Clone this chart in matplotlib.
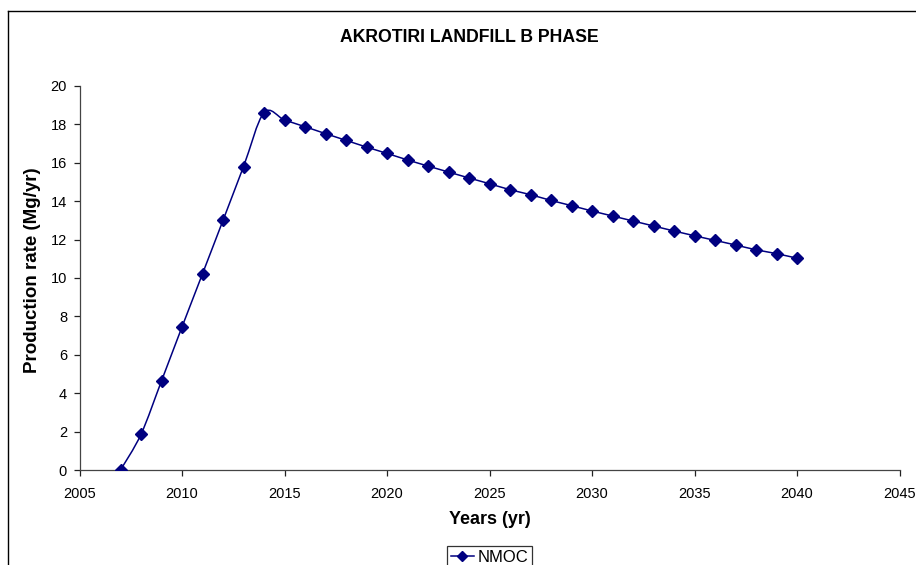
import numpy as np
import matplotlib
matplotlib.use("Agg")
import matplotlib.pyplot as plt
from matplotlib.path import Path
from matplotlib.patches import PathPatch
from matplotlib.lines import Line2D

plt.rcParams['font.family'] = ['Liberation Sans', 'DejaVu Sans']

# NMOC production, Mg/yr
years = [2007, 2008, 2009, 2010, 2011, 2012, 2013, 2014, 2015, 2016,
         2017, 2018, 2019, 2020, 2021, 2022, 2023, 2024, 2025, 2026,
         2027, 2028, 2029, 2030, 2031, 2032, 2033, 2034, 2035, 2036,
         2037, 2038, 2039, 2040]
nmoc = [0.00, 1.86, 4.64, 7.45, 10.22, 13.00, 15.80, 18.61, 18.23, 17.88,
        17.52, 17.17, 16.82, 16.49, 16.15, 15.83, 15.52, 15.21, 14.91, 14.60,
        14.34, 14.04, 13.77, 13.49, 13.23, 12.97, 12.71, 12.45, 12.20, 11.96,
        11.72, 11.47, 11.27, 11.03]

xticks = [2005, 2010, 2015, 2020, 2025, 2030, 2035, 2040, 2045]
yticks = [0, 2, 4, 6, 8, 10, 12, 14, 16, 18, 20]

color = '#000080'


def smooth_path(x, y):
    """Cubic Bezier path through the points (Catmull-Rom style smoothing)."""
    x = np.asarray(x, float)
    y = np.asarray(y, float)
    n = len(x)
    verts = [(x[0], y[0])]
    codes = [Path.MOVETO]
    for i in range(n - 1):
        x0, y0 = (x[i - 1], y[i - 1]) if i > 0 else (x[i], y[i])
        x3, y3 = (x[i + 2], y[i + 2]) if i + 2 < n else (x[i + 1], y[i + 1])
        c1 = (x[i] + (x[i + 1] - x0) / 6, y[i] + (y[i + 1] - y0) / 6)
        c2 = (x[i + 1] - (x3 - x[i]) / 6, y[i + 1] - (y3 - y[i]) / 6)
        verts += [c1, c2, (x[i + 1], y[i + 1])]
        codes += [Path.CURVE4] * 3
    return Path(verts, codes)


fig = plt.figure(figsize=(9.16, 5.65), dpi=100)
W, H = 916, 565
ax = fig.add_axes([79.5 / W, 1 - 470 / H, 820 / W, 384 / H])

ax.add_patch(PathPatch(smooth_path(years, nmoc), fill=False,
                       edgecolor=color, linewidth=1.1, zorder=2))
ax.plot(years, nmoc, linestyle='none', marker='D', markersize=6,
        color=color, zorder=3)

ax.set_xlim(2005, 2045)
ax.set_ylim(0, 20)
ax.set_xticks(xticks)
ax.set_yticks(yticks)
ax.tick_params(direction='out', length=4, width=0.9, labelsize=10.5,
               colors='#222222', labelcolor='black')
ax.tick_params(axis='x', pad=8)
ax.tick_params(axis='y', pad=5)
for side in ('top', 'right'):
    ax.spines[side].set_visible(False)
for side in ('left', 'bottom'):
    ax.spines[side].set_linewidth(0.9)
    ax.spines[side].set_color('#444444')

ax.set_xlabel('Years (yr)', fontsize=13, fontweight='bold')
ax.xaxis.set_label_coords(0.5, (470 - 511) / 384)
ax.set_ylabel('Production rate (Mg/yr)', fontsize=13.5, fontweight='bold',
              va='center')
ax.yaxis.set_label_coords((33 - 79.5) / 820, 0.52)
fig.text(469 / W, 1 - 38 / H, 'AKROTIRI LANDFILL B PHASE', fontsize=12.7,
         fontweight='bold', ha='center', va='center')

handle = Line2D([], [], color=color, linewidth=1.1, marker='D',
                markersize=5)
leg = fig.legend([handle], ['NMOC'], loc='upper center',
                 bbox_to_anchor=(489.5 / W, 1 - 546 / H), frameon=True,
                 fontsize=12, fancybox=False, edgecolor='black',
                 handlelength=1.4, handletextpad=0.2, borderpad=0.25,
                 borderaxespad=0)
leg.get_frame().set_linewidth(0.9)

# outer chart border (top and left edges)
fig.add_artist(Line2D([8 / W, 1.0], [1 - 11 / H, 1 - 11 / H],
                      transform=fig.transFigure, color='black', linewidth=1))
fig.add_artist(Line2D([8 / W, 8 / W], [1 - 11 / H, 0.0],
                      transform=fig.transFigure, color='black', linewidth=1))

fig.savefig('out.png', dpi=100)
